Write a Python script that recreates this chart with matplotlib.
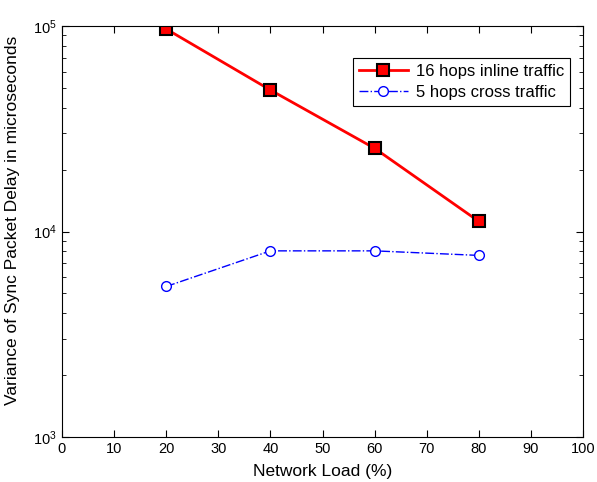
import matplotlib
matplotlib.use("Agg")
import matplotlib.pyplot as plt
from matplotlib.ticker import LogLocator, NullFormatter

plt.rcParams['font.family'] = ['Liberation Sans', 'DejaVu Sans']
plt.rcParams['mathtext.fontset'] = 'custom'
plt.rcParams['mathtext.rm'] = 'Liberation Sans'

# network load (%) and sync packet delay variance (us)
load = [20, 40, 60, 80]
inline_16 = [96700, 48800, 25400, 11200]
cross_5 = [5400, 8050, 8050, 7650]

fig = plt.figure(figsize=(5.97, 4.82), dpi=100)
ax = fig.add_axes([62 / 597, 45 / 482, 521 / 597, 411 / 482])

ax.semilogy(load, inline_16, color='red', lw=2, marker='s', ms=8,
            mfc='red', mec='black', mew=1.5, label='16 hops inline traffic')
ax.semilogy(load, cross_5, color='blue', lw=1, ls='-.', marker='o', ms=7,
            mfc='white', mec='blue', mew=1, label='5 hops cross traffic')

ax.set_xlim(0, 100)
ax.set_ylim(1e3, 1e5)
ax.set_xticks(range(0, 101, 10))
ax.yaxis.set_major_locator(LogLocator(base=10, numticks=5))
ax.yaxis.set_minor_locator(LogLocator(base=10, subs=range(2, 10), numticks=20))
ax.yaxis.set_minor_formatter(NullFormatter())
ax.tick_params(which='both', direction='in', top=True, right=True, labelsize=10.5)
ax.tick_params(which='major', length=5)
ax.tick_params(which='minor', length=3)

ax.set_xlabel('Network Load (%)', fontsize=12.5)
ax.set_ylabel('Variance of Sync Packet Delay in microseconds', fontsize=12.5)
ax.xaxis.set_label_coords(0.5, -0.066)
ax.yaxis.set_label_coords(-0.08, 0.528)

leg = ax.legend(loc='upper right', bbox_to_anchor=(0.975, 0.922), borderaxespad=0,
                fontsize=12, fancybox=False, edgecolor='black', framealpha=1,
                handlelength=2.9, borderpad=0.35, labelspacing=0.35, handletextpad=0.5)
leg.get_frame().set_linewidth(0.8)

fig.savefig('out.png', dpi=100)
